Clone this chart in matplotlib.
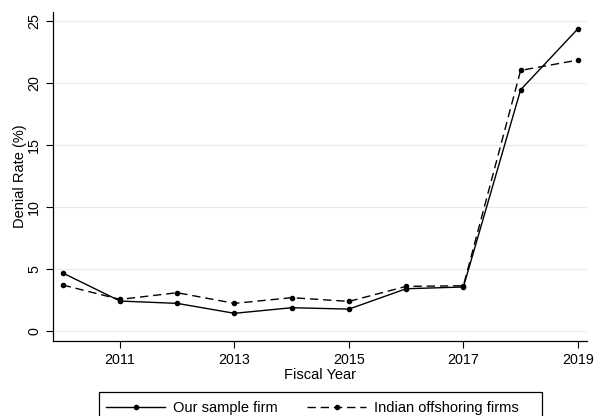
import matplotlib
matplotlib.use("Agg")
import matplotlib.pyplot as plt
from matplotlib.patches import Rectangle

plt.rcParams["font.family"] = ["Liberation Sans", "DejaVu Sans"]

# data
years = [2010, 2011, 2012, 2013, 2014, 2015, 2016, 2017, 2018, 2019]
sample_firm = [4.68, 2.42, 2.23, 1.43, 1.88, 1.77, 3.41, 3.55, 19.44, 24.35]
indian_firms = [3.71, 2.55, 3.09, 2.23, 2.69, 2.39, 3.60, 3.65, 21.0, 21.83]
xticks = [2011, 2013, 2015, 2017, 2019]
yticks = [0, 5, 10, 15, 20, 25]

fig = plt.figure(figsize=(5.97, 4.16), dpi=100)
ax = fig.add_axes([0.0888, 0.1803, 0.8945, 0.7907])

ax.plot(years, sample_firm, color="black", lw=1.0, marker="o", ms=3,
        label="Our sample firm")
ax.plot(years, indian_firms, color="black", lw=1.0, marker="o", ms=3,
        dashes=(6, 3.5), label="Indian offshoring firms")

ax.set_xlim(2009.83, 2019.16)
ax.set_ylim(-0.8, 25.7)
ax.set_xticks(xticks)
ax.set_yticks(yticks)
ax.grid(axis="y", color="#e4ecee", lw=0.9)
ax.set_axisbelow(True)

for side in ["top", "right"]:
    ax.spines[side].set_visible(False)
for side in ["left", "bottom"]:
    ax.spines[side].set_linewidth(0.9)

ax.tick_params(axis="both", labelsize=10.3, length=5, width=0.8, direction="out")
plt.setp(ax.get_yticklabels(), rotation=90, va="center")

ax.set_xlabel("Fiscal Year", fontsize=10.5, labelpad=1)
ax.set_ylabel("Denial Rate (%)", fontsize=10.5, labelpad=0.5)

# legend below the plot, Stata style box (wider on the right)
leg = fig.legend(loc="upper left", bbox_to_anchor=(0.1574, 0.066), ncol=2,
                 fontsize=10.5, frameon=False, handlelength=4.0,
                 columnspacing=2.0, borderpad=0.35, handletextpad=0.6)
box = Rectangle((0.1658, -0.02), 0.7420, 0.0775, transform=fig.transFigure,
                fill=False, edgecolor="black", lw=0.9)
fig.patches.append(box)

fig.savefig("out.png", dpi=100)
